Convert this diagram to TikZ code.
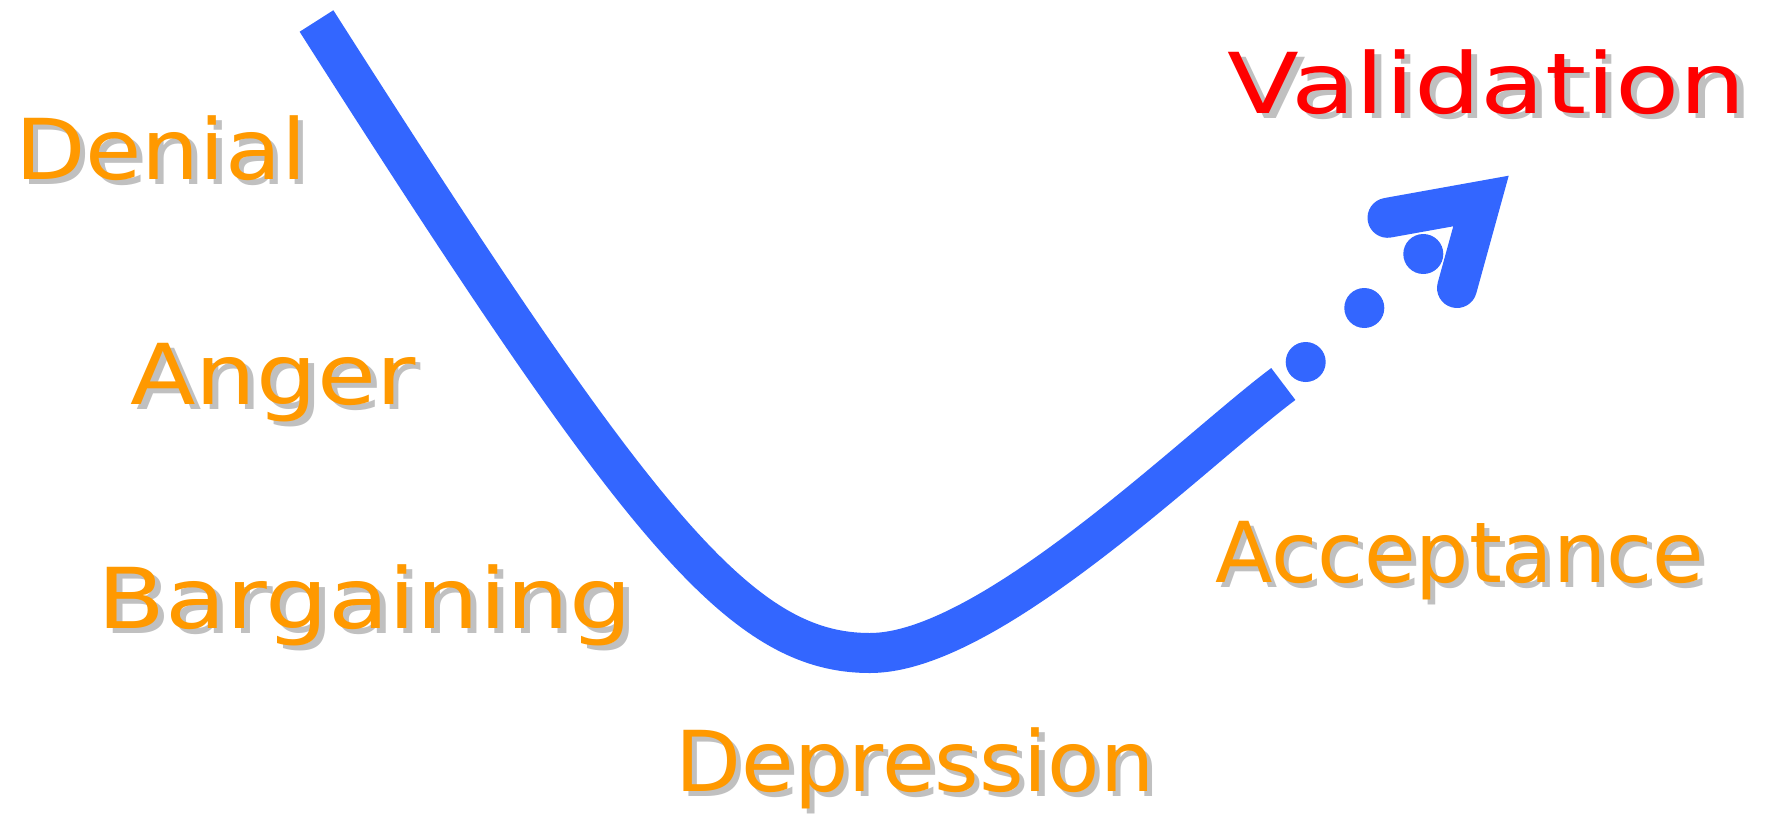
\documentclass[tikz,border=0pt]{standalone}
\usepackage{fontspec}
\usepackage{graphicx}
\newfontfamily\handfont{DejaVu Sans}
\definecolor{curveblue}{RGB}{51,102,255}
\definecolor{labelorange}{RGB}{255,153,0}
\definecolor{labelred}{RGB}{255,0,0}
\definecolor{shadowgray}{RGB}{192,192,192}
\newcommand\shadowtext[2]{\scalebox{#1}[1]{\makebox[0pt][l]{\kern5pt\raisebox{-5pt}{\color{shadowgray}#2}}#2}}
\tikzset{
  stage/.style={anchor=base, inner sep=0pt, text=labelorange, font=\handfont\fontsize{84}{90}\selectfont},
  goal/.style={stage, text=labelred},
  curve/.style={draw=curveblue, line width=40pt},
  dot/.style={circle, fill=curveblue, minimum size=40pt, inner sep=0pt},
  head/.style={draw=curveblue, line width=40pt, line cap=round, line join=miter}
}
\begin{document}
\begin{tikzpicture}[x=1pt, y=-1pt]
\useasboundingbox (0,0) rectangle (1773,825);
% labels
\node[stage] (denial) at (161,179) {\shadowtext{1.09}{Denial}};
\node[stage] (anger) at (273,404) {\shadowtext{1.14}{Anger}};
\node[stage] (bargaining) at (365,628) {\shadowtext{1.18}{Bargaining}};
\node[stage] (depression) at (915,791) {\shadowtext{1.02}{Depression}};
\node[stage] (acceptance) at (1460,582) {\shadowtext{1.0}{Acceptance}};
\node[goal] (validation) at (1487,113) {\shadowtext{1.25}{Validation}};
% curve
\coordinate (c0) at (316.5,21);
\coordinate (cmin) at (870,653);
\coordinate (cend) at (1283.3,384);
\draw[curve] (c0) .. controls (638.7,526.8) and (740,653) .. (cmin)
  .. controls (990,653) and (1195,450) .. (cend);
% dots
\node[dot] (d1) at (1305.7,362) {};
\node[dot] (d2) at (1364.3,308) {};
\node[dot] (d3) at (1423.3,254) {};
% arrow head
\coordinate (h1) at (1387.5,217.8);
\coordinate (hapex) at (1481,201);
\coordinate (h2) at (1457,288);
\draw[head] (h1) -- (hapex) -- (h2);
\end{tikzpicture}
\end{document}
